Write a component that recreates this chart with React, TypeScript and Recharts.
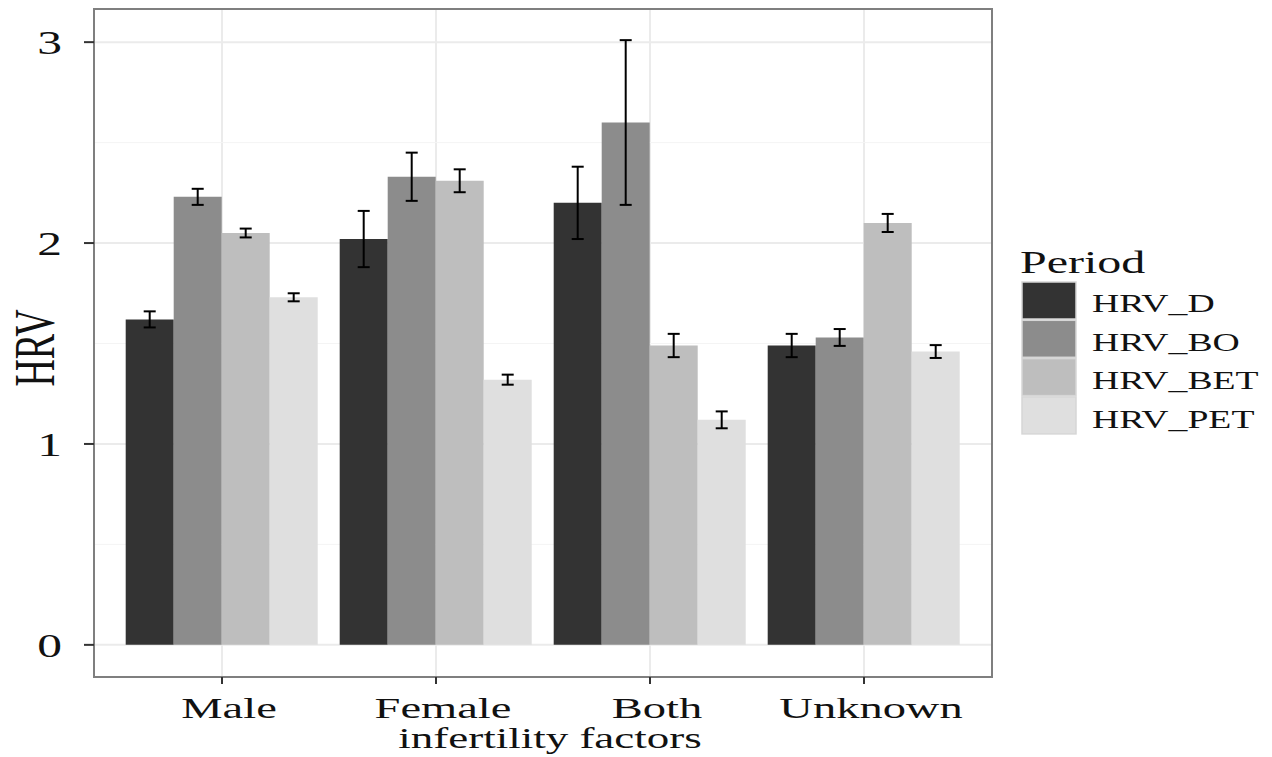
import {
  Bar,
  BarChart,
  CartesianGrid,
  ErrorBar,
  Label,
  Legend,
  ReferenceArea,
  XAxis,
  YAxis,
} from "recharts";

const factors = ["Male", "Female", "Both", "Unknown"];
const periods = ["HRV_D", "HRV_BO", "HRV_BET", "HRV_PET"];
const periodColors = ["#333333", "#8c8c8c", "#bebebe", "#dfdfdf"];

// mean HRV per factor, one list per period
const hrvD = [1.62, 2.02, 2.2, 1.49];
const hrvBO = [2.23, 2.33, 2.6, 1.53];
const hrvBET = [2.05, 2.31, 1.49, 2.1];
const hrvPET = [1.73, 1.32, 1.12, 1.46];

// +/- error per factor
const errD = [0.04, 0.14, 0.18, 0.058];
const errBO = [0.04, 0.12, 0.41, 0.042];
const errBET = [0.022, 0.057, 0.058, 0.045];
const errPET = [0.02, 0.025, 0.042, 0.032];

const yTicks = [0, 1, 2, 3];
const yMinorTicks = [0.5, 1.5, 2.5];
const yDomain: [number, number] = [-0.16, 3.165];
// index range of the hidden numeric x axis used for the panel border
const frameDomain: [number, number] = [0, factors.length - 1];

const means = [hrvD, hrvBO, hrvBET, hrvPET];
const errs = [errD, errBO, errBET, errPET];

const data = factors.map((f, i) => {
  const row: Record<string, string | number> = { factor: f };
  periods.forEach((p, k) => {
    row[p] = means[k][i];
    row[p + "_err"] = errs[k][i];
  });
  return row;
});

const SERIF = '"Liberation Serif", "Times New Roman", serif';
// the source image is stretched horizontally
const STRETCH = 1.5;

function XTick({ x, y, payload }: any) {
  return (
    <g transform={`translate(${x + 7},${y})`}>
      <text
        transform="scale(1.55,1)"
        textAnchor="middle"
        dy={32}
        fontSize={30}
        fontFamily={SERIF}
        fill="#111"
      >
        {payload.value}
      </text>
    </g>
  );
}

function YTick({ x, y, payload }: any) {
  return (
    <g transform={`translate(${x},${y})`}>
      <text
        transform={`scale(${STRETCH},1)`}
        textAnchor="end"
        dy={12}
        fontSize={33}
        fontFamily={SERIF}
        fill="#111"
      >
        {payload.value}
      </text>
    </g>
  );
}

function XTitle(props: any) {
  const vb = props.viewBox || { x: 94, y: 677, width: 898, height: 60 };
  const cx = vb.x + vb.width / 2 + 7;
  const cy = vb.y + 71;
  return (
    <text
      transform={`translate(${cx},${cy}) scale(${STRETCH},1)`}
      textAnchor="middle"
      fontSize={30}
      fontFamily={SERIF}
      fill="#111"
    >
      infertility factors
    </text>
  );
}

function YTitle(props: any) {
  const vb = props.viewBox || { x: 34, y: 9, width: 60, height: 668 };
  const cx = vb.x + 1;
  const cy = vb.y + vb.height / 2 + 5;
  return (
    <text
      transform={`translate(${cx},${cy}) scale(1.48,1) rotate(-90)`}
      textAnchor="middle"
      dy="0.33em"
      fontSize={38}
      fontFamily={SERIF}
      fill="#111"
    >
      HRV
    </text>
  );
}

function PeriodLegend() {
  return (
    <svg width={250} height={210} style={{ display: "block" }}>
      <text
        transform={`translate(8,33) scale(${STRETCH},1)`}
        fontSize={32}
        fontFamily={SERIF}
        fill="#111"
      >
        Period
      </text>
      {periods.map((p, k) => (
        <g key={p}>
          <rect
            x={10}
            y={42 + k * 38.3}
            width={54}
            height={37}
            fill={periodColors[k]}
            stroke="#d6d6d6"
            strokeWidth={1.5}
          />
          <text
            transform={`translate(80,${72 + k * 38.6}) scale(1.45,1)`}
            fontSize={26}
            fontFamily={SERIF}
            fill="#111"
          >
            {p}
          </text>
        </g>
      ))}
    </svg>
  );
}

export default function App() {
  return (
    // pinned to the window corner so the chart covers the whole page
    <div
      style={{
        position: "absolute",
        left: 0,
        top: 0,
        width: 1272,
        height: 757,
        overflow: "hidden",
      }}
    >
      <BarChart
        width={1272}
        height={757}
        data={data}
        margin={{ top: 9, right: 280, bottom: 20, left: 34 }}
        barGap={0}
        barCategoryGap="5%"
      >
        <CartesianGrid stroke="#ebebeb" strokeWidth={2} />
        <CartesianGrid
          yAxisId="minor"
          vertical={false}
          stroke="#f4f4f4"
          strokeWidth={1}
        />
        <XAxis
          dataKey="factor"
          height={60}
          padding={{ left: 21, right: 21 }}
          axisLine={false}
          tickSize={7}
          tickMargin={2}
          tickLine={{ stroke: "#333", strokeWidth: 2 }}
          tick={<XTick />}
          interval={0}
        >
          <Label content={XTitle} />
        </XAxis>
        {/* full-width numeric axis, only used to place the panel border */}
        <XAxis
          xAxisId="frame"
          type="number"
          domain={frameDomain}
          allowDataOverflow
          hide
        />
        <YAxis
          width={60}
          domain={yDomain}
          ticks={yTicks}
          allowDataOverflow
          axisLine={false}
          tickSize={10}
          tickMargin={22}
          tickLine={{ stroke: "#333", strokeWidth: 2 }}
          tick={<YTick />}
        >
          <Label content={YTitle} />
        </YAxis>
        <YAxis
          yAxisId="minor"
          hide
          domain={yDomain}
          ticks={yMinorTicks}
          allowDataOverflow
        />
        <ReferenceArea
          xAxisId="frame"
          x1={frameDomain[0]}
          x2={frameDomain[1]}
          y1={yDomain[0]}
          y2={yDomain[1]}
          fill="none"
          stroke="#7f7f7f"
          strokeWidth={2}
          ifOverflow="visible"
        />
        <Legend
          layout="vertical"
          align="center"
          verticalAlign="middle"
          wrapperStyle={{ left: 1012, top: 240, width: 250, height: 210 }}
          content={() => <PeriodLegend />}
        />
        {periods.map((p, k) => (
          <Bar
            key={p}
            dataKey={p}
            fill={periodColors[k]}
            isAnimationActive={false}
          >
            <ErrorBar
              dataKey={p + "_err"}
              width={6}
              stroke="#000"
              strokeWidth={2}
              direction="y"
            />
          </Bar>
        ))}
      </BarChart>
    </div>
  );
}
